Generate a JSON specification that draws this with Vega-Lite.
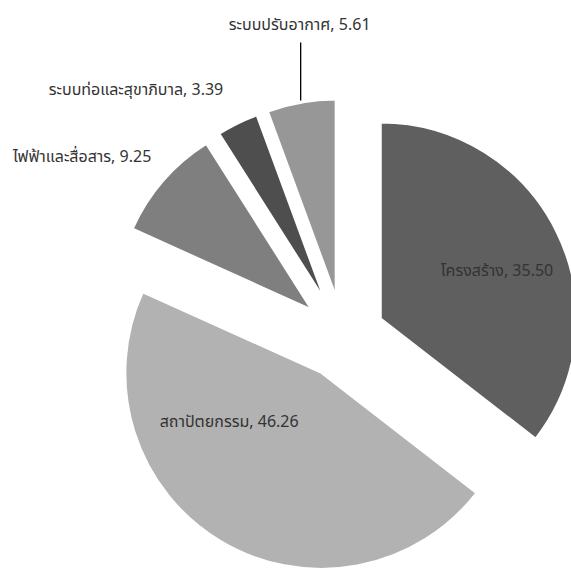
{
  "$schema": "https://vega.github.io/schema/vega-lite/v6.json",
  "width": 571,
  "height": 569,
  "padding": 0,
  "autosize": {"type": "none"},
  "background": "white",
  "config": {"view": {"stroke": null}},
  "data": {
    "values": [
      {"category": "โครงสร้าง", "value": 35.50, "order": 1},
      {"category": "สถาปัตยกรรม", "value": 46.26, "order": 2},
      {"category": "ไฟฟ้าและสื่อสาร", "value": 9.25, "order": 3},
      {"category": "ระบบท่อและสุขาภิบาล", "value": 3.39, "order": 4},
      {"category": "ระบบปรับอากาศ", "value": 5.61, "order": 5}
    ]
  },
  "transform": [
    {"window": [{"op": "sum", "field": "value", "as": "cumEnd"}], "sort": [{"field": "order"}], "frame": [null, 0]},
    {"joinaggregate": [{"op": "sum", "field": "value", "as": "total"}]},
    {"calculate": "(datum.cumEnd - datum.value) / datum.total", "as": "start"},
    {"calculate": "datum.cumEnd / datum.total", "as": "end"},
    {"calculate": "(datum.start + datum.end) / 2", "as": "mid"},
    {"calculate": "0.2143 * sin(2 * PI * datum.mid)", "as": "ex"},
    {"calculate": "0.2143 * cos(2 * PI * datum.mid)", "as": "ey"},
    {"calculate": "datum.category + ', ' + format(datum.value, '.2f')", "as": "label"}
  ],
  "encoding": {
    "x": {"field": "ex", "type": "quantitative", "stack": null, "axis": null, "scale": {"domain": [-1.75, 1.163], "nice": false, "zero": false}},
    "y": {"field": "ey", "type": "quantitative", "stack": null, "axis": null, "scale": {"domain": [-1.184, 1.719], "nice": false, "zero": false}}
  },
  "layer": [
    {
      "mark": {"type": "arc", "radius": 196, "stroke": "white", "strokeWidth": 2},
      "encoding": {
        "theta": {"field": "start", "type": "quantitative", "stack": null, "scale": {"domain": [0, 1]}},
        "theta2": {"field": "end"},
        "color": {
          "field": "category", "type": "nominal", "legend": null,
          "scale": {
            "domain": ["โครงสร้าง", "สถาปัตยกรรม", "ไฟฟ้าและสื่อสาร", "ระบบท่อและสุขาภิบาล", "ระบบปรับอากาศ"],
            "range": ["#5f5f5f", "#b2b2b2", "#7f7f7f", "#4e4e4e", "#979797"]
          }
        }
      }
    },
    {
      "transform": [{"filter": "datum.order == 5"}],
      "mark": {"type": "rule", "stroke": "#000000", "strokeWidth": 1.3, "xOffset": -35, "yOffset": -253, "y2Offset": -195},
      "encoding": {"y2": {"field": "ey"}}
    },
    {
      "transform": [{"filter": "datum.order == 1"}],
      "mark": {"type": "text", "radius": 125.6, "thetaOffset": 0.068, "font": "Noto Sans Thai, Noto Sans, DejaVu Sans, sans-serif", "fontSize": 16, "fill": "#333333", "align": "center", "baseline": "middle"},
      "encoding": {"theta": {"field": "mid", "type": "quantitative", "stack": null, "scale": {"domain": [0, 1]}}, "text": {"field": "label"}}
    },
    {
      "transform": [{"filter": "datum.order == 2"}],
      "mark": {"type": "text", "radius": 104.5, "thetaOffset": 0.539, "font": "Noto Sans Thai, Noto Sans, DejaVu Sans, sans-serif", "fontSize": 16, "fill": "#333333", "align": "center", "baseline": "middle"},
      "encoding": {"theta": {"field": "mid", "type": "quantitative", "stack": null, "scale": {"domain": [0, 1]}}, "text": {"field": "label"}}
    },
    {
      "transform": [{"filter": "datum.order == 3"}],
      "mark": {"type": "text", "radius": 275.4, "thetaOffset": -0.127, "font": "Noto Sans Thai, Noto Sans, DejaVu Sans, sans-serif", "fontSize": 16, "fill": "#333333", "align": "center", "baseline": "middle"},
      "encoding": {"theta": {"field": "mid", "type": "quantitative", "stack": null, "scale": {"domain": [0, 1]}}, "text": {"field": "label"}}
    },
    {
      "transform": [{"filter": "datum.order == 4"}],
      "mark": {"type": "text", "radius": 281.6, "thetaOffset": -0.274, "font": "Noto Sans Thai, Noto Sans, DejaVu Sans, sans-serif", "fontSize": 16, "fill": "#333333", "align": "center", "baseline": "middle"},
      "encoding": {"theta": {"field": "mid", "type": "quantitative", "stack": null, "scale": {"domain": [0, 1]}}, "text": {"field": "label"}}
    },
    {
      "transform": [{"filter": "datum.order == 5"}],
      "mark": {"type": "text", "radius": 273, "thetaOffset": 0.044, "font": "Noto Sans Thai, Noto Sans, DejaVu Sans, sans-serif", "fontSize": 16, "fill": "#333333", "align": "center", "baseline": "middle"},
      "encoding": {"theta": {"field": "mid", "type": "quantitative", "stack": null, "scale": {"domain": [0, 1]}}, "text": {"field": "label"}}
    }
  ]
}
